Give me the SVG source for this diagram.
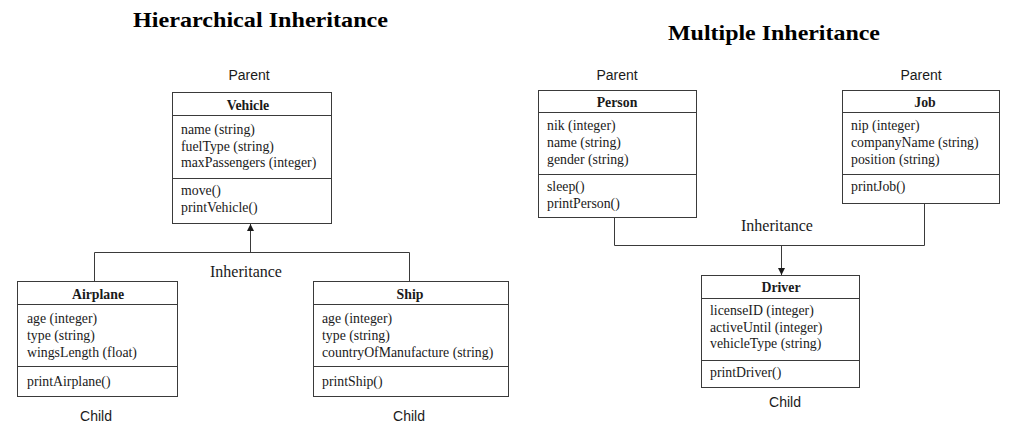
<svg xmlns="http://www.w3.org/2000/svg" width="1023" height="429" viewBox="0 0 1023 429">
<style>
.box{fill:#fff;stroke:#3a3a3a;stroke-width:1}
.div{stroke:#3a3a3a;stroke-width:1}
.t{font-family:"Liberation Serif","Times New Roman",serif;font-size:13.8px;fill:#1a1a1a}
.h{font-family:"Liberation Serif","Times New Roman",serif;font-size:13.8px;font-weight:bold;fill:#1a1a1a;text-anchor:middle}
.title{font-family:"Liberation Serif","Times New Roman",serif;font-size:22px;font-weight:bold;fill:#000;text-anchor:start}
.lab{font-family:"Liberation Sans",Arial,sans-serif;font-size:14px;fill:#1a1a1a;text-anchor:middle}
.inh{font-family:"Liberation Serif","Times New Roman",serif;font-size:16px;fill:#1a1a1a;text-anchor:middle}
.con{fill:none;stroke:#3a3a3a;stroke-width:1}
</style>
<defs>
<marker id="arr" viewBox="0 0 10 10" refX="10" refY="5" markerWidth="7" markerHeight="7" markerUnits="userSpaceOnUse" orient="auto">
<path d="M0,0 L10,5 L0,10 z" fill="#1a1a1a"/>
</marker>
</defs>
<rect width="1023" height="429" fill="#fff"/>
<text class="title" x="133" y="27" textLength="255" lengthAdjust="spacingAndGlyphs">Hierarchical Inheritance</text>
<text class="title" x="668" y="40" textLength="212" lengthAdjust="spacingAndGlyphs">Multiple Inheritance</text>

<g id="connectors">
<path class="con" d="M94.5,281 V252.5 H409.5 V281"/>
<path class="con" d="M250.5,252.5 V224" marker-end="url(#arr)"/>
<path class="con" d="M614.5,218 V245.5 H924.5 V204"/>
<path class="con" d="M781.5,245.5 V275" marker-end="url(#arr)"/>
<text class="inh" x="246" y="277">Inheritance</text>
<text class="inh" x="777" y="231">Inheritance</text>
</g>

<g id="vehicle">
<text class="lab" x="249" y="80">Parent</text>
<rect class="box" x="172.5" y="92.5" width="159" height="131"/>
<line class="div" x1="172.5" y1="115.5" x2="331.5" y2="115.5"/>
<line class="div" x1="172.5" y1="178.5" x2="331.5" y2="178.5"/>
<text class="h" x="248" y="110">Vehicle</text>
<text class="t" x="181" y="134">name (string)</text>
<text class="t" x="181" y="150.5">fuelType (string)</text>
<text class="t" x="181" y="167">maxPassengers (integer)</text>
<text class="t" x="181" y="195">move()</text>
<text class="t" x="181" y="212">printVehicle()</text>
</g>

<g id="airplane">
<rect class="box" x="17.5" y="281.5" width="160" height="115"/>
<line class="div" x1="17.5" y1="304.5" x2="177.5" y2="304.5"/>
<line class="div" x1="17.5" y1="366.5" x2="177.5" y2="366.5"/>
<text class="h" x="98" y="299">Airplane</text>
<text class="t" x="27" y="323">age (integer)</text>
<text class="t" x="27" y="340">type (string)</text>
<text class="t" x="27" y="356.5">wingsLength (float)</text>
<text class="t" x="27" y="386">printAirplane()</text>
<text class="lab" x="96" y="421">Child</text>
</g>

<g id="ship">
<rect class="box" x="313.5" y="281.5" width="195" height="115"/>
<line class="div" x1="313.5" y1="304.5" x2="508.5" y2="304.5"/>
<line class="div" x1="313.5" y1="366.5" x2="508.5" y2="366.5"/>
<text class="h" x="410" y="299">Ship</text>
<text class="t" x="322" y="323">age (integer)</text>
<text class="t" x="322" y="340">type (string)</text>
<text class="t" x="322" y="356.5">countryOfManufacture (string)</text>
<text class="t" x="322" y="386">printShip()</text>
<text class="lab" x="409" y="421">Child</text>
</g>

<g id="person">
<text class="lab" x="617" y="80">Parent</text>
<rect class="box" x="538.5" y="90.5" width="158" height="127"/>
<line class="div" x1="538.5" y1="112.5" x2="696.5" y2="112.5"/>
<line class="div" x1="538.5" y1="174.5" x2="696.5" y2="174.5"/>
<text class="h" x="617" y="107">Person</text>
<text class="t" x="547" y="130">nik (integer)</text>
<text class="t" x="547" y="147">name (string)</text>
<text class="t" x="547" y="163.5">gender (string)</text>
<text class="t" x="547" y="191">sleep()</text>
<text class="t" x="547" y="208">printPerson()</text>
</g>

<g id="job">
<text class="lab" x="921" y="80">Parent</text>
<rect class="box" x="842.5" y="90.5" width="157" height="113"/>
<line class="div" x1="842.5" y1="112.5" x2="999.5" y2="112.5"/>
<line class="div" x1="842.5" y1="174.5" x2="999.5" y2="174.5"/>
<text class="h" x="925" y="107">Job</text>
<text class="t" x="851" y="130">nip (integer)</text>
<text class="t" x="851" y="147">companyName (string)</text>
<text class="t" x="851" y="163.5">position (string)</text>
<text class="t" x="851" y="191">printJob()</text>
</g>

<g id="driver">
<rect class="box" x="701.5" y="275.5" width="158" height="112"/>
<line class="div" x1="701.5" y1="298.5" x2="859.5" y2="298.5"/>
<line class="div" x1="701.5" y1="360.5" x2="859.5" y2="360.5"/>
<text class="h" x="781" y="292">Driver</text>
<text class="t" x="710" y="315">licenseID (integer)</text>
<text class="t" x="710" y="331.5">activeUntil (integer)</text>
<text class="t" x="710" y="348">vehicleType (string)</text>
<text class="t" x="710" y="377">printDriver()</text>
<text class="lab" x="785" y="407">Child</text>
</g>
</svg>
